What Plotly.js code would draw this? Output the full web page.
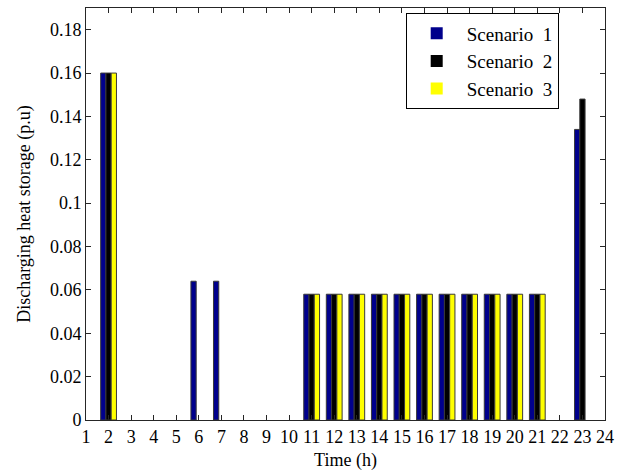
<!DOCTYPE html>
<html>
<head>
<meta charset="utf-8">
<script src="https://cdn.plot.ly/plotly-3.0.1.min.js"></script>
<style>html,body{margin:0;padding:0;background:#fff;}#chart{width:624px;height:471px;}</style>
</head>
<body>
<div id="chart"></div>
<script>
var hours = [1,2,3,4,5,6,7,8,9,10,11,12,13,14,15,16,17,18,19,20,21,22,23,24];
var scenario1 = [0,0.16,0,0,0,0.064,0.064,0,0,0,0.058,0.058,0.058,0.058,0.058,0.058,0.058,0.058,0.058,0.058,0.058,0,0.134,0];
var scenario2 = [0,0.16,0,0,0,0,0,0,0,0,0.058,0.058,0.058,0.058,0.058,0.058,0.058,0.058,0.058,0.058,0.058,0,0.148,0];
var scenario3 = [0,0.16,0,0,0,0,0,0,0,0,0.058,0.058,0.058,0.058,0.058,0.058,0.058,0.058,0.058,0.058,0.058,0,0,0];
var seriesNames = ['Scenario  1','Scenario  2','Scenario  3'];
var seriesColors = ['#00008c','#000000','#ffff00'];
var yTicks = [0,0.02,0.04,0.06,0.08,0.1,0.12,0.14,0.16,0.18];

var allSeries = [scenario1, scenario2, scenario3];
var traces = allSeries.map(function(vals, i){
  return {
    type:'bar', x:hours, y:vals, name:seriesNames[i],
    marker:{color:seriesColors[i], line:{color:'#3a3a3a',
      width:vals.map(function(v){return v>0?1:0;})}}
  };
});

var fontF = 'Times New Roman, Liberation Serif, DejaVu Serif, serif';
var layout = {
  width:624, height:471,
  margin:{l:86, r:19, t:8, b:51},
  paper_bgcolor:'#fff', plot_bgcolor:'#fff',
  barmode:'group', bargap:0.3, bargroupgap:0,
  font:{family:fontF, size:18, color:'#000'},
  showlegend:true,
  legend:{x:0.616, y:0.987, xanchor:'left', yanchor:'top',
    bgcolor:'#fff', bordercolor:'#000', borderwidth:1,
    font:{family:fontF, size:19, color:'#000'},
    itemwidth:50, tracegroupgap:0},
  xaxis:{range:[1,24], tickmode:'array', tickvals:hours, ticktext:hours.map(String),
    tickangle:0, ticks:'inside', ticklen:5, tickcolor:'#262626',
    showline:true, linecolor:'#262626', linewidth:1, mirror:'ticks',
    showgrid:false, zeroline:false,
    tickfont:{family:fontF, size:18, color:'#000'},
    title:{text:'Time (h)', font:{family:fontF, size:18, color:'#000'}, standoff:7}},
  yaxis:{range:[0,0.19], tickmode:'array', tickvals:yTicks,
    ticktext:yTicks.map(function(v){return v===0?'0':String(v);}),
    ticks:'inside', ticklen:5, tickcolor:'#262626',
    showline:true, linecolor:'#262626', linewidth:1, mirror:'ticks',
    showgrid:false, zeroline:false,
    tickfont:{family:fontF, size:18, color:'#000'},
    title:{text:'Discharging heat storage (p.u)', font:{family:fontF, size:18, color:'#000'}, standoff:14}}
};
Plotly.newPlot('chart', traces, layout, {staticPlot:true, displayModeBar:false});
</script>
</body>
</html>
